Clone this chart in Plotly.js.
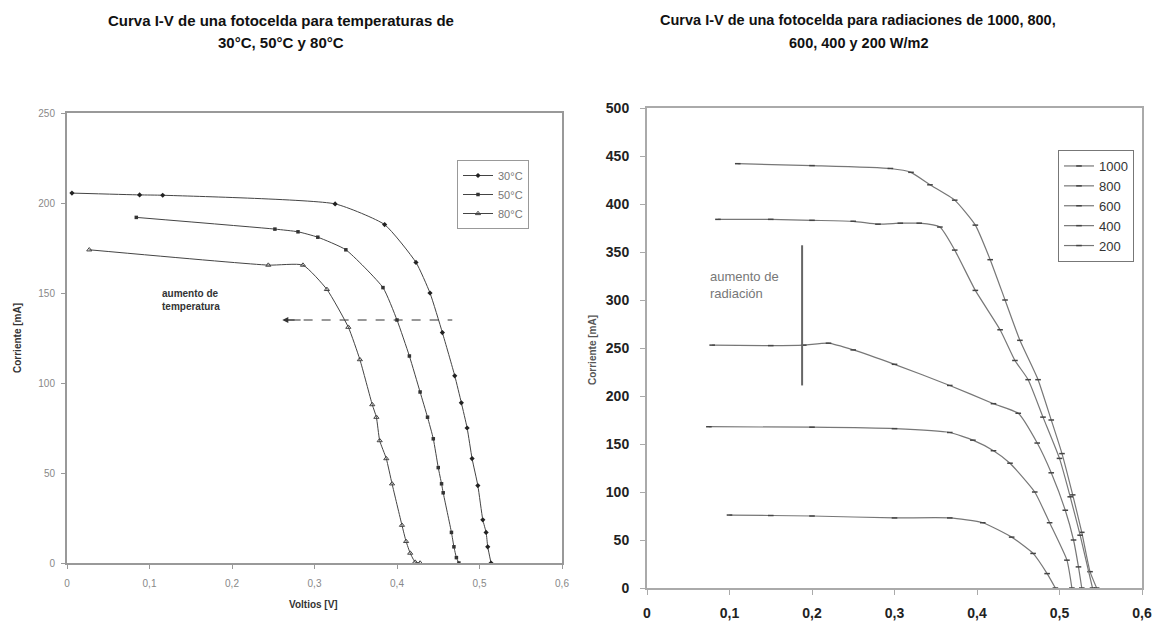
<!DOCTYPE html>
<html><head><meta charset="utf-8">
<script src="https://cdn.plot.ly/plotly-3.0.1.min.js"></script>
<style>html,body{margin:0;padding:0;background:#fff;}#g{width:1160px;height:625px;}</style>
</head><body><div id="g"></div>
<script>
// Left chart: temperature
const V30 = [0.006,0.088,0.116,0.325,0.385,0.423,0.440,0.455,0.470,0.478,0.485,0.491,0.498,0.504,0.508,0.510,0.514];
const I30 = [205.5,204.5,204.3,199.5,188,167,150,128,104,89,75,58,43,24,17,9,0];
const V50 = [0.084,0.252,0.280,0.304,0.338,0.383,0.400,0.415,0.428,0.437,0.444,0.450,0.454,0.456,0.466,0.469,0.472,0.475];
const I50 = [192,185.5,184,181,174,153,135,115,95,81,69,53,44,39,17,9,3,0];
const V80 = [0.027,0.244,0.286,0.315,0.341,0.355,0.370,0.375,0.379,0.387,0.394,0.406,0.411,0.416,0.422,0.428];
const I80 = [174,165.5,165.5,152,131,113,88,81,68,58,44,21,12,5.5,0.5,0];
const tempNames = ["30°C","50°C","80°C"];
// Right chart: irradiance
const V1000 = [0.11,0.20,0.295,0.32,0.343,0.373,0.398,0.416,0.434,0.452,0.474,0.49,0.503,0.516,0.527,0.537,0.545];
const I1000 = [442,440,437,433,420,404,378,342,300,258,217,175,140,97,58,17,0];
const V800 = [0.086,0.15,0.20,0.25,0.28,0.307,0.33,0.355,0.373,0.398,0.428,0.446,0.462,0.48,0.50,0.513,0.525,0.54];
const I800 = [384,384,383,382,379,380,380,376,352,310,269,237,217,178,135,95,55,0];
const V600 = [0.079,0.15,0.19,0.22,0.25,0.30,0.367,0.42,0.45,0.473,0.49,0.507,0.517,0.523,0.527];
const I600 = [253,252.5,253,255,248,233,211,192,182,151,120,81,50,22,0];
const V400 = [0.075,0.20,0.30,0.367,0.395,0.42,0.44,0.47,0.488,0.509,0.515];
const I400 = [168,167.5,166,162,154,143,130,100,68,29,0];
const V200 = [0.10,0.15,0.20,0.30,0.367,0.407,0.442,0.468,0.485,0.495];
const I200 = [76,75.5,75,73,73,68,53,36,15,0];
const radNames = ["1000","800","600","400","200"];
const xTicks = [0,0.1,0.2,0.3,0.4,0.5,0.6];

const F = "Liberation Sans, Arial, sans-serif";
const leftLine = {color:"#444", width:1, shape:"spline", smoothing:0.5};
const rightLine = {color:"#777", width:1.2, shape:"spline", smoothing:0.5};
const rMark = {symbol:"line-ew-open",size:4,color:"#444",line:{width:1.5,color:"#444"}};

const traces = [
  {x:V30,y:I30,name:tempNames[0],mode:"lines+markers",line:leftLine,marker:{symbol:"diamond",size:4,color:"#222"},xaxis:"x",yaxis:"y",legend:"legend"},
  {x:V50,y:I50,name:tempNames[1],mode:"lines+markers",line:leftLine,marker:{symbol:"square",size:3.5,color:"#333"},xaxis:"x",yaxis:"y",legend:"legend"},
  {x:V80,y:I80,name:tempNames[2],mode:"lines+markers",line:leftLine,marker:{symbol:"triangle-up-open",size:4.5,color:"#444"},xaxis:"x",yaxis:"y",legend:"legend"},
  {x:V1000,y:I1000,name:radNames[0],mode:"lines+markers",line:rightLine,marker:rMark,xaxis:"x2",yaxis:"y2",legend:"legend2"},
  {x:V800,y:I800,name:radNames[1],mode:"lines+markers",line:rightLine,marker:rMark,xaxis:"x2",yaxis:"y2",legend:"legend2"},
  {x:V600,y:I600,name:radNames[2],mode:"lines+markers",line:rightLine,marker:rMark,xaxis:"x2",yaxis:"y2",legend:"legend2"},
  {x:V400,y:I400,name:radNames[3],mode:"lines+markers",line:rightLine,marker:rMark,xaxis:"x2",yaxis:"y2",legend:"legend2"},
  {x:V200,y:I200,name:radNames[4],mode:"lines+markers",line:rightLine,marker:rMark,xaxis:"x2",yaxis:"y2",legend:"legend2"}
];

const axL = {showline:true,linecolor:"#999",linewidth:2,mirror:true,ticks:"outside",ticklen:4,tickcolor:"#999",showgrid:false,zeroline:false,tickfont:{family:F,size:10,color:"#888"}};
const axR = {showline:true,linecolor:"#aaa",linewidth:2,mirror:true,ticks:"outside",ticklen:5,tickcolor:"#aaa",showgrid:false,zeroline:false,tickfont:{family:F,size:14,color:"#222",weight:"bold"}};

function note(x, y, text, size, color, extra) {
  return Object.assign({xref:"paper",yref:"paper",x:x/1160,y:1-y/625,xanchor:"center",yanchor:"middle",showarrow:false,
    text:text,font:{family:F,size:size,color:color}}, extra||{});
}

const layout = {
  width:1160,height:625,margin:{l:0,r:0,t:0,b:0},
  paper_bgcolor:"#fff",plot_bgcolor:"#fff",
  separators:",.",
  font:{family:F},
  xaxis:Object.assign({},axL,{domain:[67/1160,562/1160],range:[0,0.6],tickvals:xTicks,anchor:"y",ticklabelstandoff:6}),
  yaxis:Object.assign({},axL,{domain:[1-563/625,1-113/625],range:[0,250],dtick:50,anchor:"x",ticklabelstandoff:4}),
  xaxis2:Object.assign({},axR,{domain:[647/1160,1142/1160],range:[0,0.6],tickvals:xTicks,anchor:"y2",ticklabelstandoff:6}),
  yaxis2:Object.assign({},axR,{domain:[1-588/625,1-108/625],range:[0,500],dtick:50,anchor:"x2",ticklabelstandoff:8}),
  legend:{x:457/1160,y:1-160/625,xanchor:"left",yanchor:"top",bordercolor:"#999",borderwidth:1,bgcolor:"#fff",font:{family:F,size:11,color:"#777"},itemwidth:30,tracegroupgap:0},
  legend2:{x:1058/1160,y:1-150/625,xanchor:"left",yanchor:"top",bordercolor:"#777",borderwidth:1,bgcolor:"#fff",font:{family:F,size:13,color:"#333"},itemwidth:30},
  annotations:[
    note(281,20,"<b>Curva I-V de una fotocelda para temperaturas de</b>",15,"#111"),
    note(281,43,"<b>30°C, 50°C y 80°C</b>",15,"#111"),
    note(858,20,"<b>Curva I-V de una fotocelda para radiaciones de 1000, 800,</b>",14.5,"#111"),
    note(858,43,"<b>600, 400 y 200 W/m2</b>",14.5,"#111"),
    note(18,338,"<b>Corriente [mA]</b>",10,"#333",{textangle:-90}),
    note(313,604,"<b>Voltios [V]</b>",10,"#333"),
    note(592,350,"<b>Corriente [mA]</b>",10,"#555",{textangle:-90}),
    {xref:"x",yref:"y",x:0.113,y:146,xanchor:"left",yanchor:"middle",showarrow:false,align:"left",
     text:"<b>aumento de<br>temperatura</b>",font:{family:F,size:10,color:"#333"}},
    {xref:"x",yref:"y",x:0.261,y:135,ax:0.285,ay:135,axref:"x",ayref:"y",showarrow:true,arrowhead:2,arrowsize:1,arrowwidth:1.2,arrowcolor:"#333",text:""},
    {xref:"x2",yref:"y2",x:0.074,y:316,xanchor:"left",yanchor:"middle",showarrow:false,align:"left",
     text:"aumento de<br>radiación",font:{family:F,size:13,color:"#777"}}
  ],
  shapes:[
    {type:"line",xref:"x",yref:"y",x0:0.265,x1:0.467,y0:135,y1:135,line:{color:"#333",width:1.2,dash:"dash"}},
    {type:"line",xref:"x2",yref:"y2",x0:0.188,x1:0.188,y0:211,y1:357,line:{color:"#666",width:2}}
  ]
};
Plotly.newPlot("g",traces,layout,{displayModeBar:false,staticPlot:true});
</script></body></html>
